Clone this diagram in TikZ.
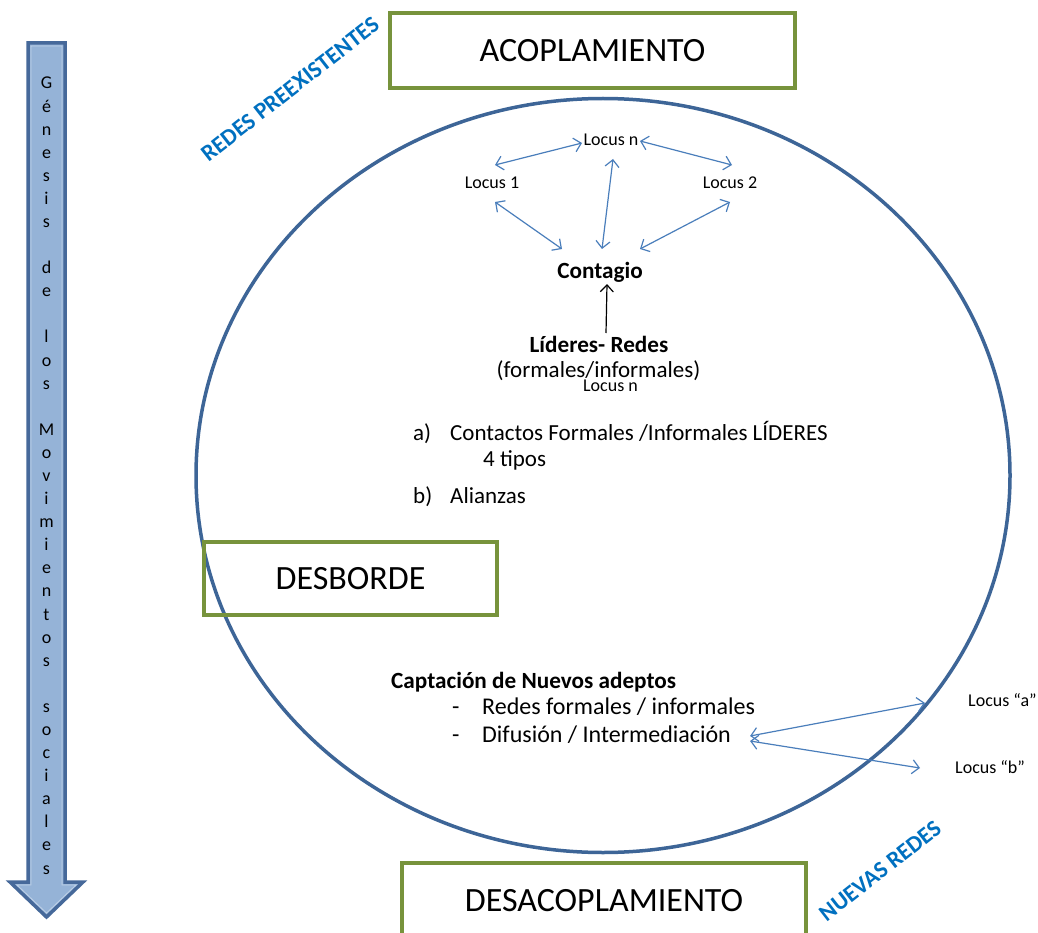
\documentclass[tikz,border=0pt]{standalone}
\usepackage{fontspec}
\setmainfont{Carlito}
\usetikzlibrary{arrows.meta}
\definecolor{boxgreen}{HTML}{77933C}
\definecolor{ringblue}{HTML}{3D6597}
\definecolor{arrfill}{HTML}{95B3D7}
\definecolor{arrline}{HTML}{46699A}
\definecolor{linkblue}{HTML}{4A7EBB}
\definecolor{tagblue}{HTML}{0070C0}
\newcommand{\fsz}[1]{\fontsize{#1}{#1}\selectfont}
\begin{document}
\begin{tikzpicture}[x=1pt,y=-1pt,
  stage/.style={draw=boxgreen, line width=4pt, font=\fsz{34}, inner sep=0pt},
  loc/.style={font=\fsz{18}, inner sep=0pt},
  body/.style={font=\fsz{23}, inner sep=0pt},
  bodyl/.style={font=\fsz{24}, inner sep=0pt},
  bodyb/.style={font=\fsz{23.2}\bfseries, inner sep=0pt},
  tag/.style={font=\fsz{23.5}\bfseries, text=tagblue, inner sep=0pt},
  vlet/.style={font=\fsz{18}, inner sep=0pt, anchor=base},
  link/.style={draw=linkblue, line width=1.2pt,
    arrows={Straight Barb[length=7pt,width=14pt]-Straight Barb[length=7pt,width=14pt]}},
  lead/.style={draw=black, line width=1.2pt, arrows={-Straight Barb[length=7pt,width=13pt]}},
  ring/.style={draw=ringblue, line width=3.5pt},
  bigarrow/.style={draw=arrline, fill=arrfill, line width=3.5pt, line join=miter}
]
\clip (0,0) rectangle (1038,933);
\fill[white] (0,0) rectangle (1038,933);

% left arrow
\draw[bigarrow] (28,43) -- (65,43) -- (65,882) -- (83,882) -- (46.5,917) -- (10,882) -- (28,882) -- cycle;
\draw[draw=arrfill!60!white, line width=0.8pt] (31,46) -- (62,46) -- (62,885) -- (76,885) -- (46.5,913) -- (17,885) -- (31,885) -- cycle;
\foreach \ch [count=\i] in {G,é,n,e,s,i,s,{},d,e,{},l,o,s,{},M,o,v,i,m,i,e,n,t,o,s,{},s,o,c,i,a,l,e,s}
  \node[vlet] (g\i) at (46.5,{89+(\i-1)*23.09}) {\ch};

% ring
\draw[ring] (603,475.5) ellipse [x radius=407, y radius=377];

% stage boxes
\node[stage, minimum width=405pt, minimum height=75pt] (acop) at (592.5,50.5) {ACOPLAMIENTO};
\node[stage, minimum width=293pt, minimum height=73pt] (desb) at (350.5,578.5) {DESBORDE};
\node[stage, minimum width=404pt, minimum height=75pt] (desac) at (604,900.5) {DESACOPLAMIENTO};

% tags
\node[tag, rotate=38] (rp) at (290,89) {REDES PREEXISTENTES};
\node[tag, rotate=38] (nr) at (880,871) {NUEVAS REDES};

% locus network
\node[loc, anchor=base] (ln) at (611,146) {Locus n};
\node[loc, anchor=base] (l1) at (492,189) {Locus 1};
\node[loc, anchor=base] (l2) at (730,189) {Locus 2};
\node[bodyb, anchor=base] (cont) at (600,279) {Contagio};
\node[bodyb, anchor=base] (lid) at (599,352) {Líderes- Redes};
\node[body, anchor=base] (form) at (598.5,377) {(formales/informales)};
\node[loc, anchor=base] (lnb) at (610.5,391) {Locus n};

\draw[link] ([shift={(3,-24)}]l1.base) -- ([shift={(-29,-3)}]ln.base);
\draw[link] ([shift={(29,-5)}]ln.base) -- ([shift={(2,-24)}]l2.base);
\draw[link] ([shift={(3,13)}]l1.base) -- ([shift={(-38,-30)}]cont.base);
\draw[link] ([shift={(2,13)}]ln.base) -- ([shift={(2,-30)}]cont.base);
\draw[link] ([shift={(0,13)}]l2.base) -- ([shift={(40,-30)}]cont.base);
\draw[lead] ([shift={(7,-19)}]lid.base) -- ([shift={(7,5)}]cont.base);

% list
\node[body, anchor=base west] (ia) at (413,440) {a)};
\node[body, anchor=base west] (ta) at (450,440) {Contactos Formales /Informales LÍDERES};
\node[body, anchor=base west] (tipos) at (483,466) {4 tipos};
\node[body, anchor=base west] (ib) at (413,503) {b)};
\node[body, anchor=base west] (tb) at (450,503) {Alianzas};

% captacion
\node[bodyb, anchor=base west] (capt) at (391,688) {Captación de Nuevos adeptos};
\node[bodyl, anchor=base west] (d1) at (452,714) {-};
\node[bodyl, anchor=base west] (r1) at (482,714) {Redes formales / informales};
\node[bodyl, anchor=base west] (d2) at (452,742) {-};
\node[bodyl, anchor=base west] (r2) at (482,742) {Difusión / Intermediación};
\node[loc, anchor=base west] (la) at (968,706) {Locus “a”};
\node[loc, anchor=base west] (lb) at (955,773) {Locus “b”};

\draw[link] ([shift={(19,-6)}]r2.base east) -- ([shift={(-43,-3)}]la.base west);
\draw[link] ([shift={(19,-1)}]r2.base east) -- ([shift={(-35,-5)}]lb.base west);
\end{tikzpicture}
\end{document}
